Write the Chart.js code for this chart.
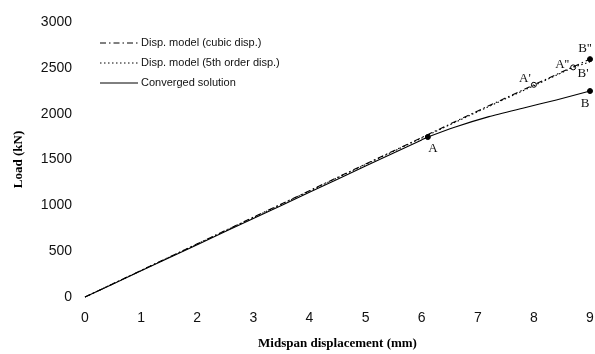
<!DOCTYPE html>
<html lang="en">
<head>
    <meta charset="UTF-8">
    <title>Load vs midspan displacement</title>
    <style>
        body {
            margin: 0;
            padding: 0;
            background-color: #fff;
        }
        #chartBox {
            width: 595px;
            height: 354px;
        }
    </style>
    <script src="https://cdn.jsdelivr.net/npm/chart.js"></script>
</head>
<body>
<div id="chartBox">
    <canvas id="loadChart" width="595" height="354"></canvas>
</div>

<script>
    // values
    const cubicX = [0, 1, 2, 3, 4, 5, 6, 7, 8, 9];
    const cubicLoad = [0, 290, 580, 870, 1160, 1450, 1740, 2030, 2315, 2595];

    const fifthX = [0, 1, 2, 3, 4, 5, 6, 7, 8, 8.7, 9];
    const fifthLoad = [0, 289, 578, 867, 1156, 1445, 1734, 2022, 2305, 2505, 2565];

    const convX = [0, 1, 2, 3, 4, 5, 6, 6.11, 6.6, 7.2, 7.8, 8.4, 9];
    const convLoad = [0, 286, 571, 857, 1142, 1428, 1714, 1745, 1855, 1968, 2060, 2150, 2247];

    const seriesNames = ['Disp. model (cubic disp.)', 'Disp. model (5th order disp.)', 'Converged solution'];

    // marked points: name, x, load, filled?
    const markNames = ['A', 'B', "B''", "A'", "A''", "B'"];
    const markX = [6.11, 9, 9, 8, 8.7, 9];
    const markLoad = [1745, 2247, 2595, 2315, 2505, 2565];
    const markFilled = [true, true, true, false, false, null];

    const xTicks = [0, 1, 2, 3, 4, 5, 6, 7, 8, 9];
    const yTicks = [0, 500, 1000, 1500, 2000, 2500, 3000];

    function toPoints(xs, ys) {
        return xs.map((x, i) => ({ x: x, y: ys[i] }));
    }

    const dashCubic = [6, 3, 1.5, 3];
    const dashFifth = [1.5, 2.5];

    const filledPts = [];
    const openPts = [];
    markNames.forEach((n, i) => {
        if (markFilled[i] === true) filledPts.push({ x: markX[i], y: markLoad[i] });
        if (markFilled[i] === false) openPts.push({ x: markX[i], y: markLoad[i] });
    });

    // label offsets in pixels from the point
    const labelOffsets = {
        'A': [5, 12], 'B': [-5, 13], "B''": [-5, -11],
        "A'": [-9, -6], "A''": [-11, -3], "B'": [-7, 12]
    };

    const labelPlugin = {
        id: 'pointLabels',
        afterDatasetsDraw(chart) {
            const ctx = chart.ctx;
            const xs = chart.scales.x, ys = chart.scales.y;
            ctx.save();
            ctx.font = '13px "Liberation Serif"';
            ctx.fillStyle = '#111';
            ctx.textAlign = 'center';
            ctx.textBaseline = 'middle';
            markNames.forEach((n, i) => {
                const px = xs.getPixelForValue(markX[i]);
                const py = ys.getPixelForValue(markLoad[i]);
                const off = labelOffsets[n];
                ctx.fillText(n, px + off[0], py + off[1]);
            });

            // legend in the upper left of the plot
            ctx.font = '11px "Liberation Sans"';
            ctx.textAlign = 'left';
            const dashes = [dashCubic, dashFifth, []];
            seriesNames.forEach((name, i) => {
                const y = 43 + i * 20;
                ctx.beginPath();
                ctx.setLineDash(dashes[i]);
                ctx.lineWidth = 1;
                ctx.strokeStyle = '#000';
                ctx.moveTo(100, y);
                ctx.lineTo(138, y);
                ctx.stroke();
                ctx.setLineDash([]);
                ctx.fillText(name, 141, y);
            });
            ctx.restore();
        }
    };

    const ctx = document.getElementById('loadChart').getContext('2d');
    new Chart(ctx, {
        type: 'scatter',
        data: {
            datasets: [
                {
                    label: seriesNames[0],
                    data: toPoints(cubicX, cubicLoad),
                    showLine: true,
                    borderColor: '#000',
                    borderWidth: 1.1,
                    borderDash: dashCubic,
                    pointRadius: 0
                },
                {
                    label: seriesNames[1],
                    data: toPoints(fifthX, fifthLoad),
                    showLine: true,
                    borderColor: '#000',
                    borderWidth: 1.1,
                    borderDash: dashFifth,
                    pointRadius: 0
                },
                {
                    label: seriesNames[2],
                    data: toPoints(convX, convLoad),
                    showLine: true,
                    borderColor: '#000',
                    borderWidth: 1.1,
                    tension: 0.2,
                    pointRadius: 0
                },
                {
                    label: 'filled',
                    data: filledPts,
                    pointRadius: 2.5,
                    pointBackgroundColor: '#000',
                    pointBorderColor: '#000'
                },
                {
                    label: 'open',
                    data: openPts,
                    pointRadius: 2.5,
                    pointBackgroundColor: '#fff',
                    pointBorderColor: '#000',
                    pointBorderWidth: 1
                }
            ]
        },
        options: {
            responsive: false,
            animation: false,
            clip: false,
            layout: { padding: { top: 22, right: -3, left: 0, bottom: 0 } },
            plugins: {
                legend: { display: false },
                tooltip: { enabled: false }
            },
            scales: {
                x: {
                    type: 'linear',
                    min: 0,
                    max: 9,
                    afterBuildTicks: (s) => { s.ticks = xTicks.map(v => ({ value: v })); },
                    afterFit: (s) => { s.height = 57; s.paddingRight = 0; s.paddingLeft = 0; },
                    grid: { display: false, drawTicks: false },
                    border: { display: false },
                    ticks: {
                        padding: 13,
                        color: '#111',
                        maxRotation: 0,
                        callback: (v) => String(v),
                        font: { family: '"Liberation Sans"', size: 14 }
                    },
                    title: {
                        display: true,
                        text: 'Midspan displacement (mm)',
                        color: '#000',
                        padding: { top: 0, bottom: 3 },
                        font: { family: '"Liberation Serif"', size: 13, weight: 'bold' }
                    }
                },
                y: {
                    min: 0,
                    max: 3000,
                    afterBuildTicks: (s) => { s.ticks = yTicks.map(v => ({ value: v })); },
                    afterFit: (s) => { s.width = 85; },
                    grid: { display: false, drawTicks: false },
                    border: { display: false },
                    ticks: {
                        padding: 13,
                        color: '#111',
                        callback: (v) => String(v),
                        font: { family: '"Liberation Sans"', size: 14 }
                    },
                    title: {
                        display: true,
                        text: 'Load (kN)',
                        color: '#000',
                        padding: { top: 11, bottom: 0 },
                        font: { family: '"Liberation Serif"', size: 13, weight: 'bold' }
                    }
                }
            }
        },
        plugins: [labelPlugin]
    });
</script>
</body>
</html>
